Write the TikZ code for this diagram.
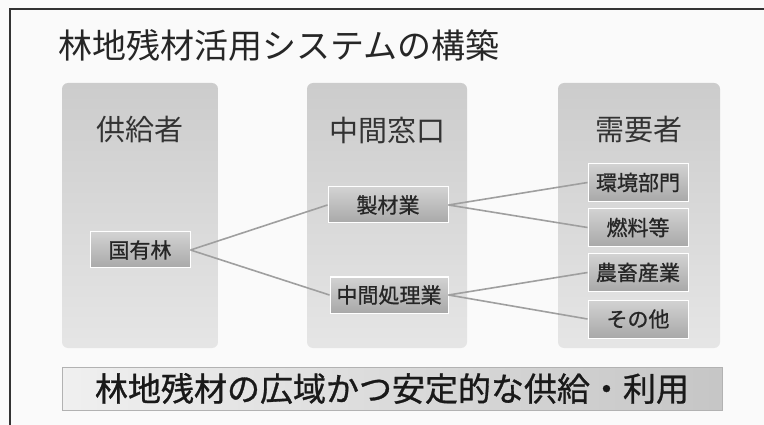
\documentclass[tikz,border=0pt]{standalone}
\usepackage{fontspec}
\setmainfont{Noto Sans CJK JP}
\newfontface\medfont{Noto Sans CJK JP}[FakeBold=0.9]
\begin{document}
\begin{tikzpicture}[x=1pt,y=-1pt,
  panel/.style={rounded corners=6pt, top color=gray!40, bottom color=gray!20, draw=none},
  box/.style={draw=white, line width=1pt, top color=gray!35, bottom color=gray!68, minimum height=36pt, inner sep=0pt, font=\fontsize{21}{21}\medfont, text=black!85},
  head/.style={font=\fontsize{29}{29}\selectfont, text=black!80},
  conn/.style={draw=gray!75, line width=1.6pt}]
\useasboundingbox (0,0) rectangle (764,425);
\fill[gray!4] (0,0) rectangle (764,425);
\draw[line width=1.6pt, black!80] (10,425) -- (10,9) -- (764,9);
\node[anchor=west, font=\fontsize{34}{34}\selectfont, text=black!85] (title) at (55,45) {林地残材活用システムの構築};
% panels
\shade[panel] (62,83) rectangle (218,348);
\shade[panel] (307,83) rectangle (467,348);
\shade[panel] (558,83) rectangle (720,348);
\node[head] (h1) at (140,130) {供給者};
\node[head] (h2) at (387,130) {中間窓口};
\node[head] (h3) at (639,130) {需要者};
% boxes
\node[box, minimum width=100pt] (kokuyu) at (140,250) {国有林};
\node[box, minimum width=120pt] (seizai) at (388,205) {製材業};
\node[box, minimum width=118pt] (chukan) at (389,295) {中間処理業};
\node[box, minimum width=100pt, minimum height=38pt] (kankyo) at (638,182.5) {環境部門};
\node[box, minimum width=100pt, minimum height=38pt] (nenryo) at (638,227.5) {燃料等};
\node[box, minimum width=100pt, minimum height=38pt] (nochiku) at (638,272.5) {農畜産業};
\node[box, minimum width=100pt, minimum height=38pt] (sonota) at (638,319) {その他};
% connectors
\draw[conn] (kokuyu.east) -- (seizai.west);
\draw[conn] (kokuyu.east) -- (chukan.west);
\draw[conn] (seizai.east) -- (kankyo.west);
\draw[conn] (seizai.east) -- (nenryo.west);
\draw[conn] (chukan.east) -- (nochiku.west);
\draw[conn] (chukan.east) -- (sonota.west);
% banner
\node[draw=gray!60, line width=1pt, left color=gray!12, right color=gray!45, minimum width=660pt, minimum height=43pt, inner sep=0pt, font=\fontsize{33}{33}\medfont, text=black!90] (banner) at (392,388.5) {林地残材の広域かつ安定的な供給・利用};
\end{tikzpicture}
\end{document}
